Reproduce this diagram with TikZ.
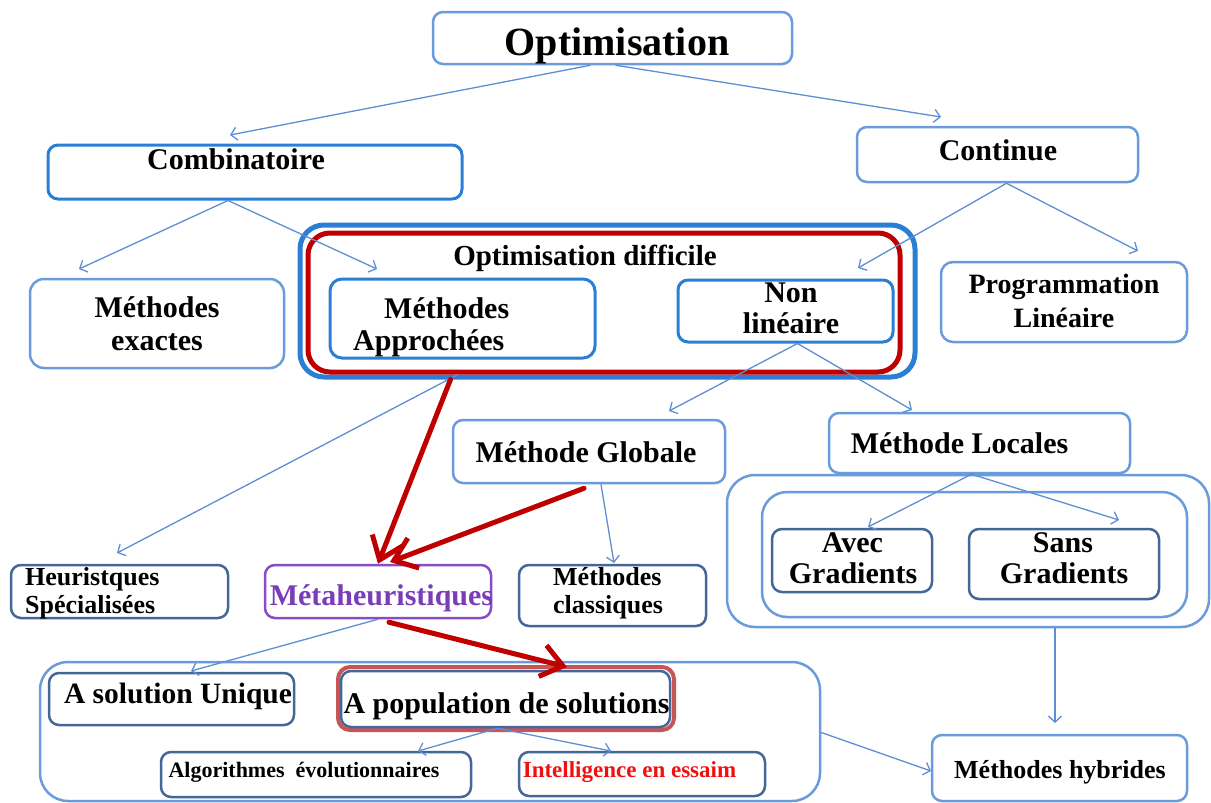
\documentclass[tikz,border=0pt]{standalone}
\usepackage{fontspec}
\setmainfont{Liberation Serif}
\usetikzlibrary{arrows.meta}
\definecolor{lb}{HTML}{6A9BDD}
\definecolor{mb}{HTML}{2A7FD4}
\definecolor{db}{HTML}{44679A}
\definecolor{rd}{HTML}{C00000}
\definecolor{lr}{HTML}{C85555}
\definecolor{pu}{HTML}{8A4CC6}
\definecolor{pt}{HTML}{7A3DB8}
\definecolor{ac}{HTML}{5E8FD3}
\definecolor{it}{HTML}{F01010}
\tikzset{
  bx/.style={draw=lb, line width=2.5pt, rounded corners=10pt, inner sep=0pt, minimum width=#1},
  bx/.default=10pt,
  mbx/.style={bx, draw=mb, line width=3pt},
  dbx/.style={bx, draw=db, line width=2.5pt},
  lbl/.style={anchor=base, inner sep=0pt, font=\bfseries\fontsize{30}{32}\selectfont},
  lbll/.style={lbl, anchor=base west},
  con/.style={draw=ac, line width=1.3pt, -{Straight Barb[length=6pt,width=13pt]}},
  rcon/.style={draw=rd, line width=5pt, line cap=round, -{Straight Barb[length=21pt,width=32pt]}}
}
\begin{document}
\begin{tikzpicture}[x=1pt,y=-1pt]
\useasboundingbox (0,0) rectangle (1211,803);
% boxes
\node[bx=359pt, minimum height=52pt] (opt) at (612.5,38) {};
\node[mbx, minimum width=414pt, minimum height=54pt] (comb) at (255,172) {};
\node[bx=281pt, minimum height=55pt] (cont) at (997.5,154.5) {};
\node[bx=254pt, minimum height=89pt, rounded corners=14pt] (exact) at (157,323.5) {};
\node[mbx, minimum width=615pt, minimum height=152pt, line width=5pt, rounded corners=24pt] (diffo) at (607.5,301) {};
\node[bx=592pt, minimum height=139pt, draw=rd, line width=5pt, rounded corners=22pt] (diffr) at (604,302.5) {};
\node[mbx, minimum width=265pt, minimum height=79pt, rounded corners=12pt] (appro) at (462.5,318.5) {};
\node[mbx, minimum width=215pt, minimum height=62pt] (nonlin) at (785.5,311) {};
\node[bx=246pt, minimum height=80pt, rounded corners=12pt] (prog) at (1064,302) {};
\node[bx=272pt, minimum height=63pt] (glob) at (589,451.5) {};
\node[bx=301pt, minimum height=60pt] (loc) at (979.5,443) {};
\node[bx=482pt, minimum height=152pt, rounded corners=28pt] (rbig) at (968,551) {};
\node[bx=425pt, minimum height=125pt, rounded corners=25pt] (rin) at (974.5,554.5) {};
\node[dbx, minimum width=160pt, minimum height=63pt] (avec) at (852,560.5) {};
\node[dbx, minimum width=190pt, minimum height=70pt] (sans) at (1064,564) {};
\node[dbx, minimum width=217pt, minimum height=53pt] (heur) at (119.5,591.5) {};
\node[bx=226pt, minimum height=53pt, draw=pu] (meta) at (378,591.5) {};
\node[dbx, minimum width=187pt, minimum height=61pt] (clas) at (612.5,595.5) {};
\node[bx=780pt, minimum height=139pt, rounded corners=28pt] (bot) at (430,731.5) {};
\node[dbx, minimum width=245pt, minimum height=52pt] (uniq) at (171.5,699) {};
\node[bx=336pt, minimum height=63pt, draw=lr, line width=4pt, rounded corners=12pt] (popr) at (506,698.5) {};
\node[dbx, minimum width=329pt, minimum height=56pt] (pop) at (505.5,699) {};
\node[dbx, minimum width=310pt, minimum height=45pt] (algo) at (316,774.5) {};
\node[dbx, minimum width=246pt, minimum height=44pt] (intel) at (642,774) {};
\node[bx=255pt, minimum height=66pt] (hyb) at (1059.5,768) {};
% labels
\node[lbl, font=\bfseries\fontsize{40}{42}\selectfont] (topt) at (617,55) {Optimisation};
\node[lbl] (tcomb) at (236,169) {Combinatoire};
\node[lbl] (tcont) at (998,160) {Continue};
\node[lbl] (texa1) at (157,317) {Méthodes};
\node[lbl] (texa2) at (157,350) {exactes};
\node[lbl, font=\bfseries\fontsize{29}{32}\selectfont] (tdiff) at (585,265) {Optimisation difficile};
\node[lbll] (tapp1) at (384,318) {Méthodes};
\node[lbll] (tapp2) at (353,350) {Approchées};
\node[lbl] (tnon1) at (791,302) {Non};
\node[lbl] (tnon2) at (791,333) {linéaire};
\node[lbl, font=\bfseries\fontsize{28}{32}\selectfont] (tpro1) at (1064,293) {Programmation};
\node[lbl, font=\bfseries\fontsize{28}{32}\selectfont] (tpro2) at (1064,327) {Linéaire};
\node[lbl] (tglob) at (586,462) {Méthode Globale};
\node[lbl] (tloc) at (959.5,453) {Méthode Locales};
\node[lbl] (tave1) at (852.5,552) {Avec};
\node[lbl] (tave2) at (853,583) {Gradients};
\node[lbl] (tsan1) at (1063,552) {Sans};
\node[lbl] (tsan2) at (1064,583) {Gradients};
\node[lbll, font=\bfseries\fontsize{26}{28}\selectfont] (theu1) at (25,585) {Heuristques};
\node[lbll, font=\bfseries\fontsize{26}{28}\selectfont] (theu2) at (25,613) {Spécialisées};
\node[lbl, text=pt] (tmeta) at (381.5,605) {Métaheuristiques};
\node[lbll, font=\bfseries\fontsize{26}{28}\selectfont] (tcla1) at (553,585) {Méthodes};
\node[lbll, font=\bfseries\fontsize{26}{28}\selectfont] (tcla2) at (553,613) {classiques};
\node[lbl, font=\bfseries\fontsize{29.5}{32}\selectfont] (tuniq) at (178,703) {A solution Unique};
\node[lbl] (tpop) at (506.5,713) {A population de solutions};
\node[lbl, font=\bfseries\fontsize{22}{24}\selectfont] (talgo) at (304,777) {Algorithmes\ \ évolutionnaires};
\node[lbl, font=\bfseries\fontsize{23}{26}\selectfont, text=it] (tint) at (629.5,777) {Intelligence en essaim};
\node[lbl, font=\bfseries\fontsize{26}{28}\selectfont] (thyb) at (1060,778) {Méthodes hybrides};
% free ends
\coordinate (e1) at (230,135);
\coordinate (e2) at (941,117);
\coordinate (e3) at (79,269);
\coordinate (e4) at (377,269);
\coordinate (e5) at (858,268);
\coordinate (e6) at (1138,251);
\coordinate (e7) at (669,411);
\coordinate (e8) at (912,410);
\coordinate (e9) at (117,553);
\coordinate (e10) at (614,563);
\coordinate (e11) at (868,527);
\coordinate (e12) at (1119,520);
\coordinate (e13) at (191,671);
\coordinate (e14) at (418,751);
\coordinate (e15) at (611,751);
\coordinate (e16) at (931,771);
\coordinate (e17) at (1055,723);
\coordinate (e18) at (390,562);
\coordinate (e19) at (567,667);
% connectors
\draw[con] ([xshift=-22pt]opt.south) -- (e1);
\draw[con] ([xshift=3pt]opt.south) -- (e2);
\draw[con] ([xshift=-27pt]comb.south) -- (e3);
\draw[con] ([xshift=-27pt]comb.south) -- (e4);
\draw[con] ([xshift=9pt]cont.south) -- (e5);
\draw[con] ([xshift=9pt]cont.south) -- (e6);
\draw[con] ([xshift=12pt]nonlin.south) -- (e7);
\draw[con] ([xshift=12pt]nonlin.south) -- (e8);
\draw[con] ([xshift=-146pt]diffr.south) -- (e9);
\draw[con] ([xshift=12pt]glob.south) -- (e10);
\draw[con] ([xshift=-8pt]loc.south) -- (e11);
\draw[con] ([xshift=-8pt]loc.south) -- (e12);
\draw[con] (meta.south) -- (e13);
\draw[con] ([xshift=-8pt]pop.south) -- (e14);
\draw[con] ([xshift=-8pt]pop.south) -- (e15);
\draw[con] ([yshift=-1pt]bot.east) -- (e16);
\draw[con] ([xshift=87pt]rbig.south) -- (e17);
\draw[rcon] ([xshift=-157pt]diffo.south) -- (meta.north);
\draw[rcon] ([xshift=-5pt,yshift=-4pt]glob.south) -- (e18);
\draw[rcon] ([xshift=11pt,yshift=-3pt]meta.south) -- (e19);
\end{tikzpicture}
\end{document}
